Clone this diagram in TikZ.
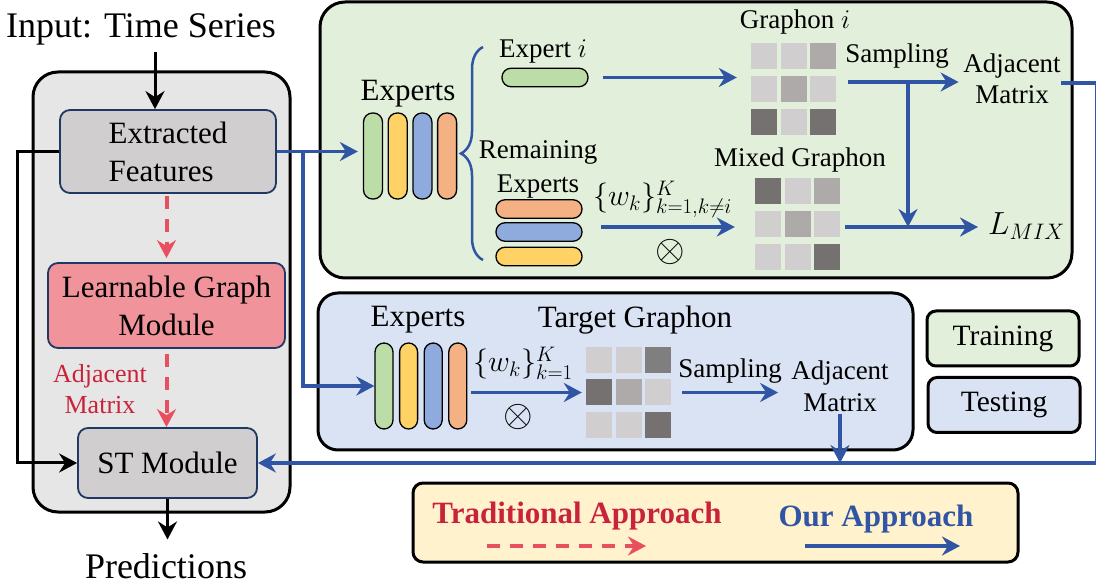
\RequirePackage{fix-cm}
\documentclass[tikz,border=0pt]{standalone}
\usepackage{fontspec}
\setmainfont{Liberation Serif}
\usetikzlibrary{arrows.meta,decorations.pathreplacing}

\definecolor{panelgray}{HTML}{E7E6E6}
\definecolor{nodegray}{HTML}{D0CECE}
\definecolor{learnpink}{HTML}{F0939B}
\definecolor{navyline}{HTML}{1F3864}
\definecolor{traingreen}{HTML}{E2EFDA}
\definecolor{testblue}{HTML}{DAE3F3}
\definecolor{legendyellow}{HTML}{FFF2CC}
\definecolor{ourblue}{HTML}{2F55A4}
\definecolor{tradpink}{HTML}{E8505F}
\definecolor{tradred}{HTML}{C9233B}
\definecolor{barGreen}{HTML}{BDDDA8}
\definecolor{barYellow}{HTML}{FFD265}
\definecolor{barBlue}{HTML}{8FAADC}
\definecolor{barOrange}{HTML}{F4B183}
\definecolor{gl}{HTML}{D0CECE}
\definecolor{gm}{HTML}{AEAAAA}
\definecolor{gd}{HTML}{767171}
\definecolor{gdd}{HTML}{7F7F7F}

\tikzset{
  tip/.style={-{Stealth[length=18pt,width=19pt,inset=6pt]}},
  flow/.style={draw=ourblue, line width=3.5pt, tip},
  blackarrow/.style={draw=black, line width=3pt, tip},
  tradarrow/.style={draw=tradpink, line width=4pt, dash pattern=on 13pt off 10pt, tip},
  panel/.style={draw=black, line width=3pt, rounded corners=25pt},
  box/.style={draw=navyline, line width=1.8pt, rounded corners=10pt, inner sep=0},
  tagbox/.style={draw=black, line width=3pt, rounded corners=9pt, inner sep=0,
    minimum width=152pt, minimum height=55pt, font=\fontsize{29.5}{33}\selectfont},
  vbar/.style={draw=black, line width=1.3pt, rounded corners=9pt, inner sep=0,
    minimum width=19pt, minimum height=86pt},
  hbar/.style={draw=black, line width=1.3pt, rounded corners=9pt, inner sep=0,
    minimum width=86pt, minimum height=18.5pt},
  cell/.style={inner sep=0, minimum size=26pt},
  lbig/.style={font=\fontsize{36}{40}\selectfont},
  lmain/.style={font=\fontsize{31}{38}\selectfont},
  lsmall/.style={font=\fontsize{27}{31}\selectfont},
  lmath/.style={font=\fontsize{30}{34}\selectfont, anchor=base west, inner sep=0},
  legfont/.style={font=\fontsize{31}{36}\selectfont\bfseries}
}

\begin{document}
\begin{tikzpicture}[x=1pt,y=-1pt]
\useasboundingbox (0,0) rectangle (1096,585);

% panels
\draw[panel, fill=panelgray] (33,72) rectangle (290,512);
\draw[panel, fill=traingreen] (320,2) rectangle (1072,278);
\draw[panel, fill=testblue, rounded corners=20pt] (318,293) rectangle (913,450);
\draw[panel, fill=legendyellow, rounded corners=10pt] (413,483) rectangle (1018,562);

% left column
\node[lbig, anchor=base] (input) at (141,38) {Input: Time Series};
\node[box, lmain, fill=nodegray, minimum width=216pt, minimum height=83pt, align=left] (feat) at (168,151.5) {Extracted\\Features};
\node[box, lmain, fill=learnpink, minimum width=237pt, minimum height=85pt, align=center] (learn) at (166.5,305.5) {Learnable Graph\\Module};
\node[box, lmain, fill=nodegray, minimum width=179pt, minimum height=70pt] (st) at (167.5,463) {ST Module};
\node[font=\fontsize{26}{31}\selectfont, text=tradred, align=center, inner sep=0] (adjl) at (100,389) {Adjacent\\Matrix};
\node[lbig, anchor=base] (pred) at (166,578) {Predictions};

% training panel
\node[lmain, anchor=base] (gexlabel) at (408,101) {Experts};
\foreach \i/\c in {0/barGreen,1/barYellow,2/barBlue,3/barOrange}
  \node[vbar, fill=\c] (gbar\i) at ({373+24.7*\i},156) {};
\draw[draw=ourblue, line width=2.5pt, decorate, decoration={brace, amplitude=22pt}] (483,260) -- (483,47);
\node[lsmall, anchor=base] (eilabel) at (543,58) {Expert $i$};
\node[hbar, fill=barGreen] (ebar) at (545,77.5) {};
\node[lsmall, align=center, inner sep=0, font=\fontsize{27}{34}\selectfont] (remlabel) at (538,169) {Remaining\\Experts};
\foreach \i/\c/\y in {1/barOrange/209,2/barBlue/232,3/barYellow/256.5}
  \node[hbar, fill=\c] (rbar\i) at (539,\y) {};
\node[lmath] (wmix) at (593,206) {$\{w_k\}_{k=1,k\neq i}^{K}$};
\node[font=\fontsize{38}{40}\selectfont, inner sep=0] (otmix) at (670,252) {$\otimes$};

\node[lsmall, anchor=base] (gilabel) at (795,29) {Graphon $i$};
\foreach \r/\c/\s in {1/1/gl,1/2/gl,1/3/gm,2/1/gl,2/2/gm,2/3/gl,3/1/gd,3/2/gl,3/3/gd}
  \node[cell, fill=\s] (gi\r\c) at ({764+29.5*(\c-1)},{56+33*(\r-1)}) {};
\node[lsmall, anchor=base] (mxlabel) at (800,167) {Mixed Graphon};
\foreach \r/\c/\s in {1/1/gd,1/2/gl,1/3/gm,2/1/gl,2/2/gm,2/3/gl,3/1/gl,3/2/gl,3/3/gd}
  \node[cell, fill=\s] (mx\r\c) at ({768+29.5*(\c-1)},{191+33*(\r-1)}) {};
\node[lsmall, anchor=base] (sampg) at (897,63) {Sampling};
\node[lsmall, align=center, inner sep=0] (adjg) at (1012,78.5) {Adjacent\\Matrix};
\node[font=\fontsize{32}{36}\selectfont, anchor=base west, inner sep=0] (lmix) at (988,235) {$L_{MIX}$};

% testing panel
\node[lmain, anchor=base] (bexlabel) at (418,327) {Experts};
\foreach \i/\c in {0/barGreen,1/barYellow,2/barBlue,3/barOrange}
  \node[vbar, minimum width=18pt, fill=\c] (bbar\i) at ({384+24.6*\i},386) {};
\node[lmath] (wtgt) at (473,372) {$\{w_k\}_{k=1}^{K}$};
\node[font=\fontsize{38}{40}\selectfont, inner sep=0] (ottgt) at (518,417) {$\otimes$};
\node[lmain, anchor=base] (tglabel) at (635,328) {Target Graphon};
\foreach \r/\c/\s in {1/1/gl,1/2/gl,1/3/gdd,2/1/gd,2/2/gm,2/3/gl,3/1/gl,3/2/gl,3/3/gd}
  \node[cell, fill=\s] (t\r\c) at ({599+29.5*(\c-1)},{360+32.5*(\r-1)}) {};
\node[lsmall, anchor=base] (sampb) at (730,378) {Sampling};
\node[lsmall, align=center, inner sep=0, font=\fontsize{27}{32}\selectfont] (adjb) at (840,386) {Adjacent\\Matrix};

% tags
\node[tagbox, fill=traingreen] (train) at (1003,338.5) {Training};
\node[tagbox, fill=testblue] (test) at (1004,405) {Testing};

% legend
\node[legfont, text=tradred, anchor=base] (tradlabel) at (577,523) {Traditional Approach};
\node[legfont, text=ourblue, anchor=base] (ourlabel) at (876,526) {Our Approach};
\coordinate (tradfrom) at (487,546);
\coordinate (tradto) at (646,546);
\coordinate (ourfrom) at (805,546);
\coordinate (ourto) at (960,546);
\draw[tradarrow] (tradfrom) -- (tradto);
\draw[flow, line width=4pt] (ourfrom) -- (ourto);

% connectors
\coordinate (inarrow) at (155,0);
\coordinate (split) at (303,0);
\coordinate (samp) at (848,82);
\coordinate (br) at (908,0);
\coordinate (mixline) at (845,227);
\coordinate (rim) at (1096.5,83);

\draw[blackarrow, shorten <=3pt] (input.south -| inarrow) -- (feat.north -| inarrow);
\draw[blackarrow, shorten >=10pt] (st.south) -- (st.south |- pred.north);
\draw[blackarrow] (feat.west) -- ++(-42,0) |- (st.west);
\draw[tradarrow, shorten <=2pt, shorten >=4pt] (learn.north |- feat.south) -- (learn.north);
\draw[tradarrow, shorten <=5pt] (learn.south) -- (learn.south |- st.north);

\draw[flow, shorten >=5pt] (feat.east) -- (feat.east -| gbar0.west);
\draw[flow] (feat.east -| split) |- (bbar0.west);
\draw[flow, shorten <=14pt, shorten >=14pt] (ebar.east) -- (ebar.east -| gi21.west);
\draw[flow, shorten <=18pt, shorten >=20pt] (rbar2.east |- mixline) -- (mixline -| mx21.west);
\draw[flow, shorten <=12pt, shorten >=4.5pt] (gi23.east |- samp) -- (samp -| adjg.west);
\draw[flow] (samp -| br) -- (mixline -| br);
\draw[flow, shorten >=10pt] (mixline) -- (mixline -| lmix.west);
\draw[draw=ourblue, line width=3.5pt] (adjg.east |- rim) -- (rim) -- (rim |- st.east);
\draw[flow] (rim |- st.east) -- (st.east);

\draw[flow, shorten <=4pt, shorten >=4pt] (bbar3.east |- t21.west) -- (t21.west);
\draw[flow, shorten <=11pt, shorten >=13pt] (t23.east) -- (t23.east -| adjb.west);
\draw[flow, shorten <=2pt] (adjb.south) -- (adjb.south |- st.east);

\end{tikzpicture}
\end{document}
